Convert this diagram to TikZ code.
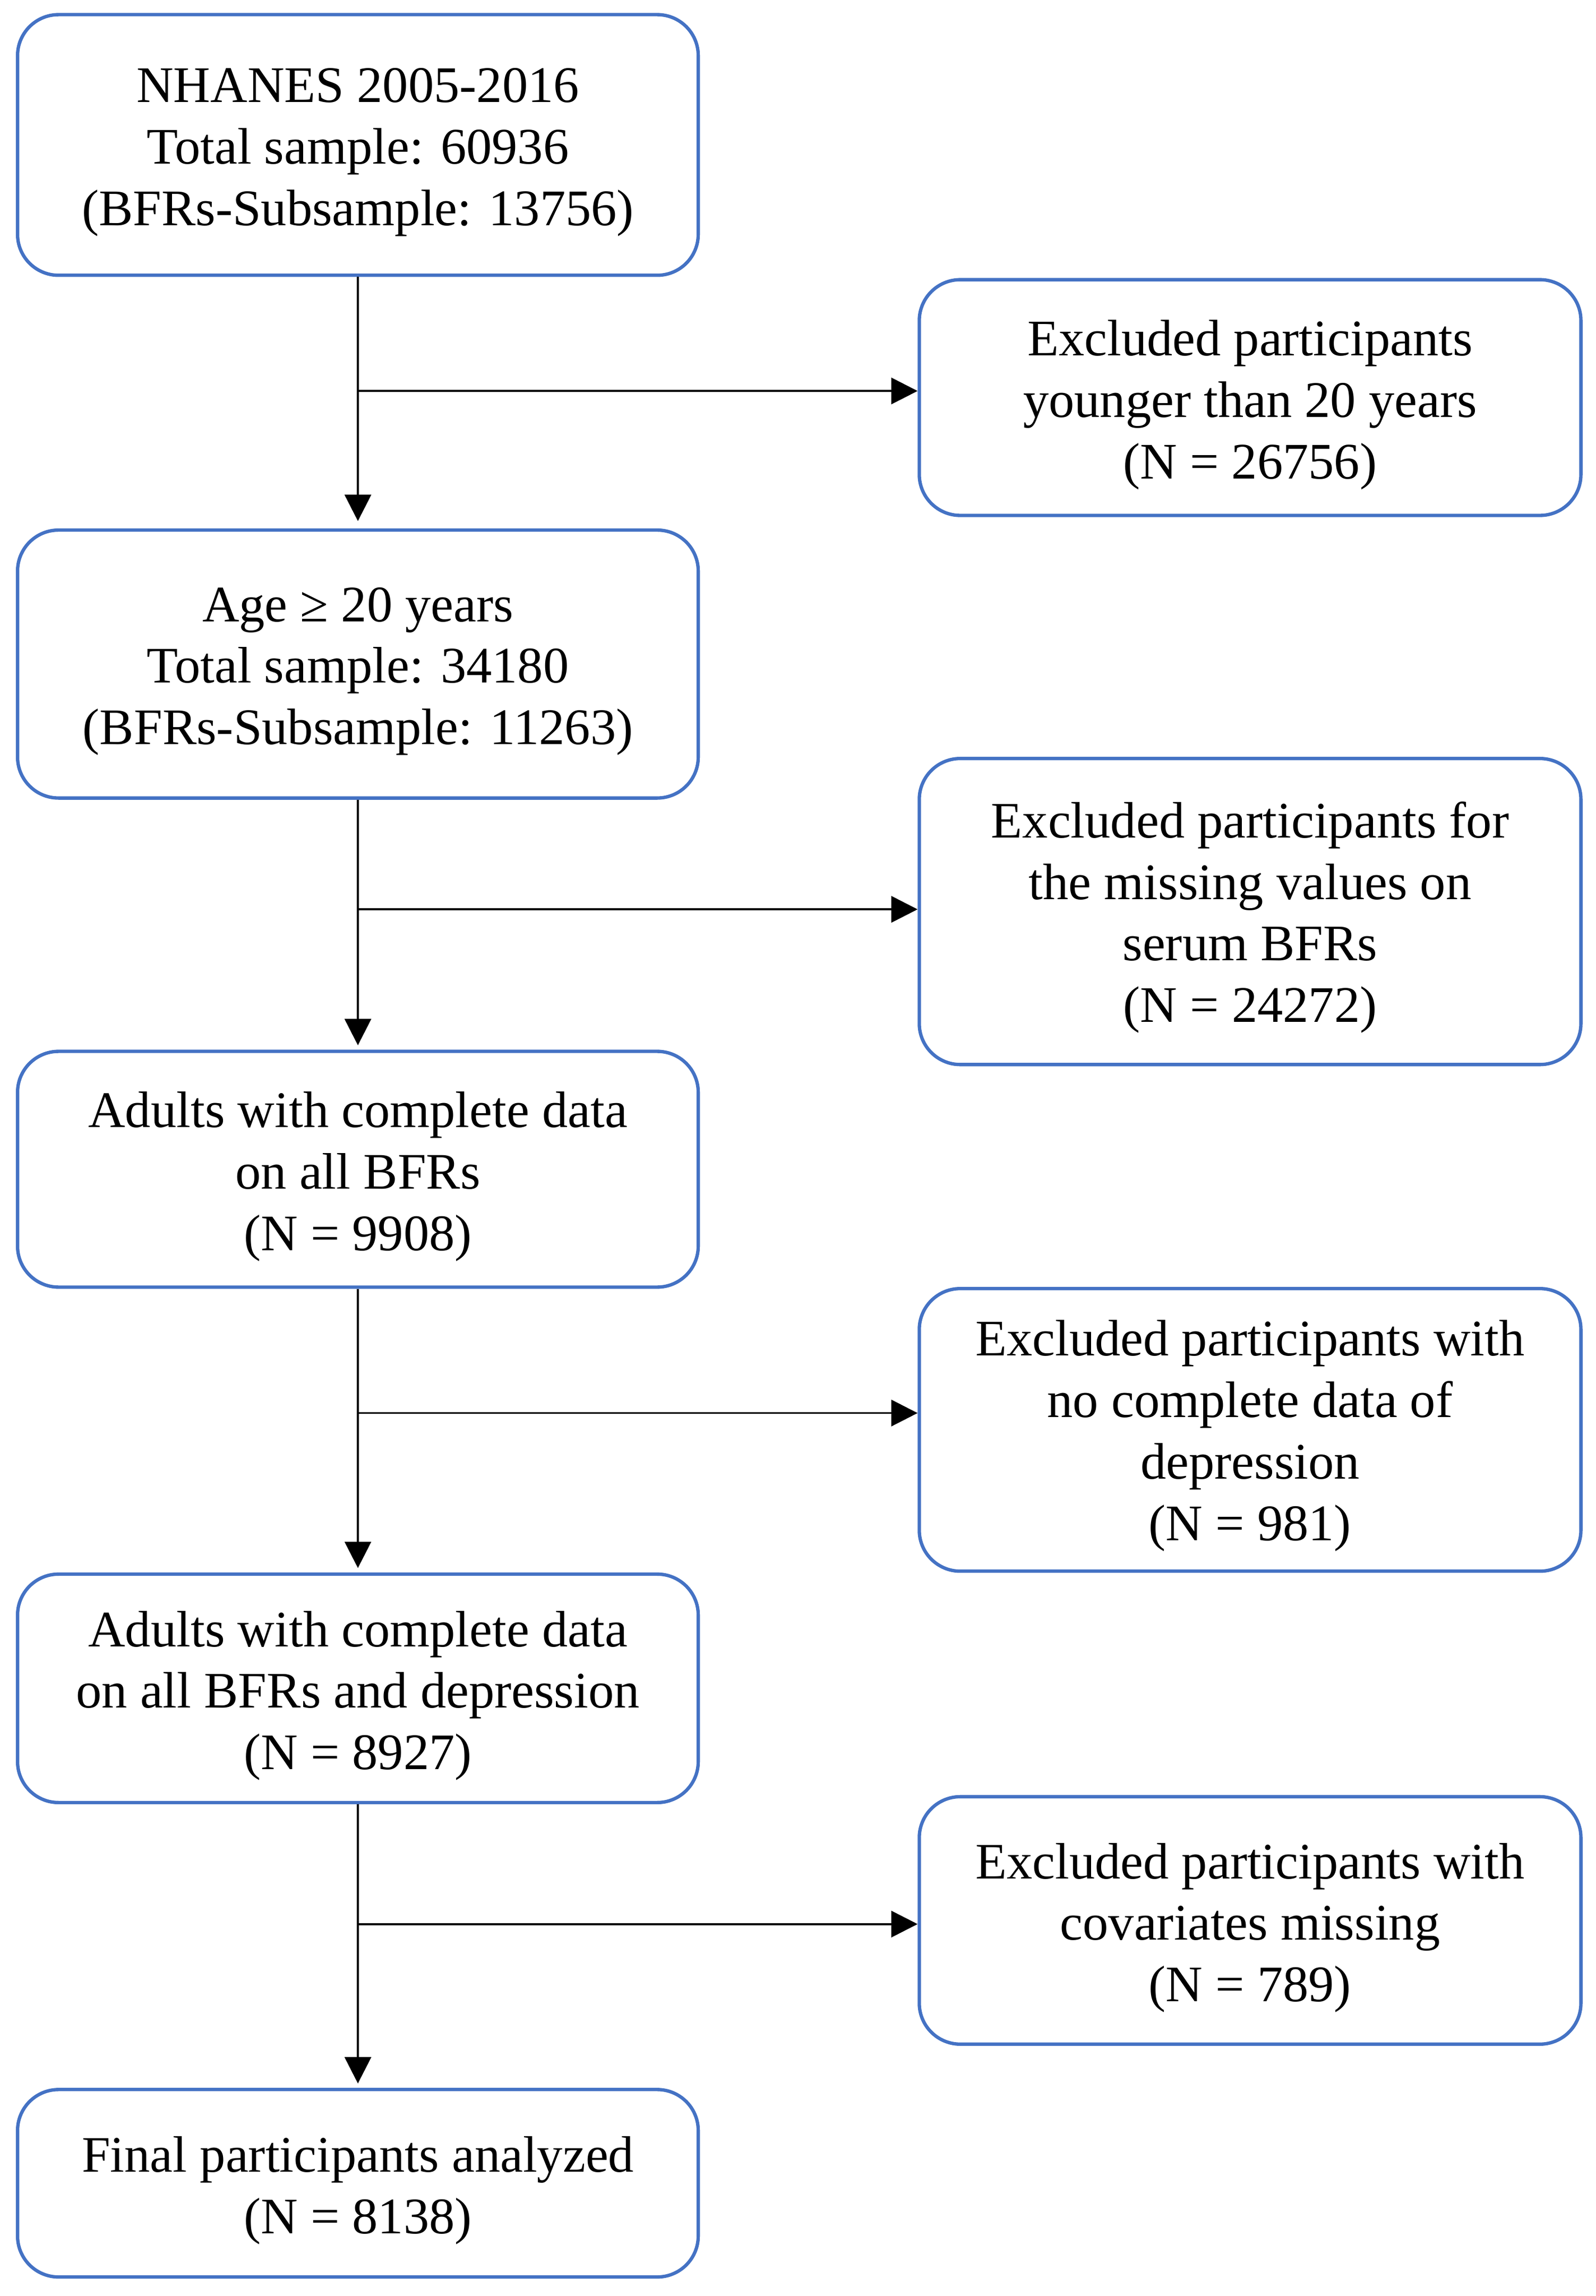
\documentclass[tikz,border=0pt]{standalone}
\usepackage{fontspec}
\setmainfont{Liberation Serif}
\usetikzlibrary{arrows.meta}
\definecolor{boxblue}{HTML}{4472C4}
\begin{document}
\begin{tikzpicture}[x=1pt,y=1pt,
  box/.style={draw=boxblue, line width=2.3pt, rounded corners=28pt, inner sep=0pt},
  lbox/.style={box, minimum width=465pt},
  rbox/.style={box, minimum width=452pt},
  txt/.style={align=center, inner sep=0pt, font=\fontsize{35}{42}\selectfont},
  arr/.style={draw=black, line width=1.4pt, -{Triangle[length=18pt,width=18pt]}}]
\useasboundingbox (0,0) rectangle (1090,-1568);
\fill[white] (0,0) rectangle (1090,-1568);
% left column
\node[lbox, minimum height=178pt] (b1) at (244.5,-99) {};
\node[lbox, minimum height=183pt] (b2) at (244.5,-453.5) {};
\node[lbox, minimum height=161pt] (b3) at (244.5,-798.5) {};
\node[lbox, minimum height=156pt] (b4) at (244.5,-1153) {};
\node[lbox, minimum height=128pt] (b5) at (244.5,-1491) {};
\node[txt] (t1) at ([yshift=-5pt]b1.center) {NHANES 2005-2016\\Total sample: 60936\\(BFRs-Subsample: 13756)};
\node[txt] (t2) at ([yshift=-5pt]b2.center) {Age ≥ 20 years\\Total sample: 34180\\(BFRs-Subsample: 11263)};
\node[txt] (t3) at ([yshift=-5pt]b3.center) {Adults with complete data\\on all BFRs\\(N = 9908)};
\node[txt] (t4) at ([yshift=-5pt]b4.center) {Adults with complete data\\on all BFRs and depression\\(N = 8927)};
\node[txt] (t5) at ([yshift=-5pt]b5.center) {Final participants analyzed\\(N = 8138)};
% right column
\node[rbox, minimum height=161pt] (r1) at (854,-271.5) {};
\node[rbox, minimum height=209pt] (r2) at (854,-622.5) {};
\node[rbox, minimum height=193pt] (r3) at (854,-976.5) {};
\node[rbox, minimum height=169pt] (r4) at (854,-1311.5) {};
\node[txt] (s1) at ([yshift=-5pt]r1.center) {Excluded participants\\younger than 20 years\\(N = 26756)};
\node[txt] (s2) at ([yshift=-4pt]r2.center) {Excluded participants for\\the missing values on\\serum BFRs\\(N = 24272)};
\node[txt] (s3) at ([yshift=-4pt]r3.center) {Excluded participants with\\no complete data of\\depression\\(N = 981)};
\node[txt] (s4) at ([yshift=-5pt]r4.center) {Excluded participants with\\covariates missing\\(N = 789)};
% junctions
\coordinate (j1) at (244.5,-267);
\coordinate (j2) at (244.5,-621);
\coordinate (j3) at (244.5,-965);
\coordinate (j4) at (244.5,-1314);
% vertical arrows
\draw[arr, shorten >=5pt] (b1.south) -- (b2.north);
\draw[arr, shorten >=3pt] (b2.south) -- (b3.north);
\draw[arr, shorten >=3pt] (b3.south) -- (b4.north);
\draw[arr, shorten >=3pt] (b4.south) -- (b5.north);
% horizontal arrows
\draw[arr] (j1) -- (j1 -| r1.west);
\draw[arr] (j2) -- (j2 -| r2.west);
\draw[arr] (j3) -- (j3 -| r3.west);
\draw[arr] (j4) -- (j4 -| r4.west);
\end{tikzpicture}
\end{document}
